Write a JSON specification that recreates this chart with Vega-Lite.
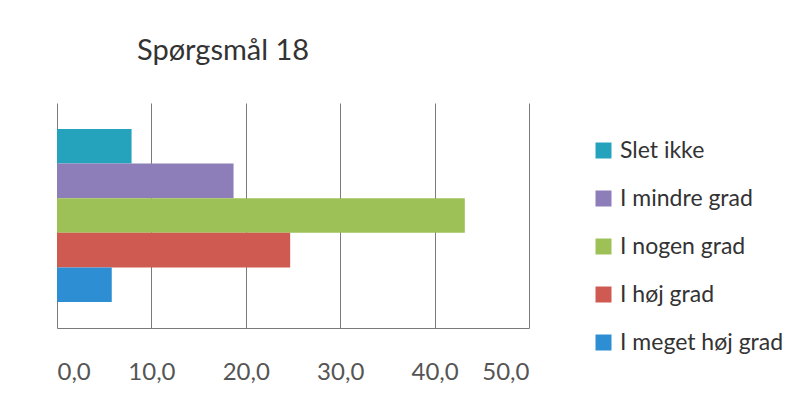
{
  "$schema": "https://vega.github.io/schema/vega-lite/v6.json",
  "width": 472,
  "height": 225,
  "autosize": {"type": "none"},
  "padding": {"left": 57, "top": 103, "right": 282, "bottom": 80},
  "background": "white",
  "title": {
    "text": "Spørgsmål 18",
    "anchor": "start",
    "dx": 80,
    "offset": 14,
    "baseline": "alphabetic",
    "font": "Lato",
    "fontSize": 29,
    "fontWeight": "normal",
    "color": "#333333"
  },
  "data": {
    "values": [
      {"svar": "Slet ikke", "procent": 7.9},
      {"svar": "I mindre grad", "procent": 18.7},
      {"svar": "I nogen grad", "procent": 43.2},
      {"svar": "I høj grad", "procent": 24.7},
      {"svar": "I meget høj grad", "procent": 5.8}
    ]
  },
  "mark": {"type": "bar"},
  "encoding": {
    "y": {
      "field": "svar",
      "type": "nominal",
      "sort": ["Slet ikke", "I mindre grad", "I nogen grad", "I høj grad", "I meget høj grad"],
      "scale": {"paddingInner": 0, "paddingOuter": 0.75},
      "axis": null
    },
    "x": {
      "field": "procent",
      "type": "quantitative",
      "scale": {"domain": [0, 50], "nice": false},
      "axis": {
        "title": null,
        "values": [0, 10, 20, 30, 40, 50],
        "labelExpr": "replace(format(datum.value, '.1f'), '.', ',')",
        "grid": true,
        "gridColor": "#7a7a7a",
        "gridWidth": 1,
        "domainColor": "#7a7a7a",
        "ticks": false,
        "labelPadding": 32,
        "labelFont": "Lato",
        "labelFontSize": 24,
        "labelColor": "#555555"
      }
    },
    "color": {
      "field": "svar",
      "type": "nominal",
      "sort": ["Slet ikke", "I mindre grad", "I nogen grad", "I høj grad", "I meget høj grad"],
      "scale": {
        "domain": ["Slet ikke", "I mindre grad", "I nogen grad", "I høj grad", "I meget høj grad"],
        "range": ["#25A3BC", "#8D7DB8", "#9DC156", "#CF5A52", "#2D8ED3"]
      },
      "legend": {
        "title": null,
        "orient": "none",
        "legendX": 535,
        "legendY": 36,
        "symbolType": "square",
        "symbolSize": 256,
        "symbolStrokeWidth": 0,
        "labelFont": "Lato",
        "labelFontSize": 23,
        "labelColor": "#333333",
        "labelOffset": 5,
        "labelLimit": 300,
        "rowPadding": 24
      }
    }
  },
  "config": {
    "view": {"stroke": null}
  }
}
